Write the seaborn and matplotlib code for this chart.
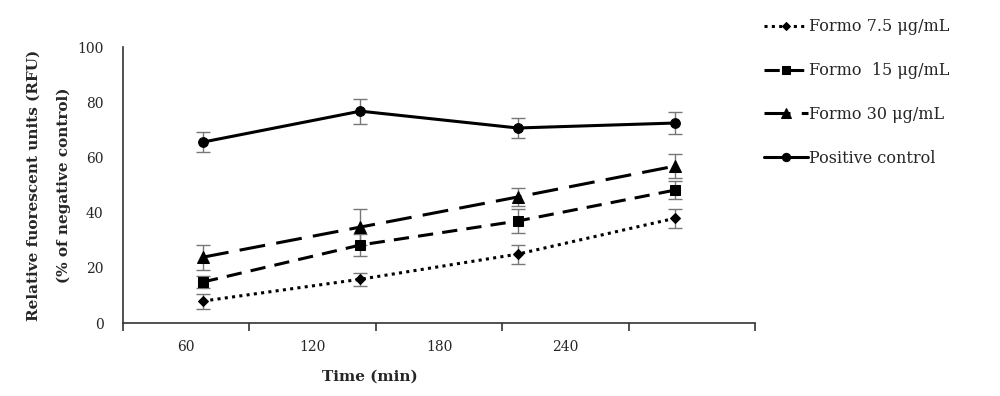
import matplotlib
matplotlib.use("Agg")
import matplotlib.pyplot as plt
import seaborn as sns
import pandas as pd
import numpy as np

# data
times = [60, 120, 180, 240]
series_names = ["Formo 7.5 \u03bcg/mL", "Formo  15 \u03bcg/mL", "Formo 30 \u03bcg/mL", "Positive control"]
formo_7_5 = [8.0, 15.9, 25.0, 38.0]
formo_7_5_err = [2.7, 2.4, 3.4, 3.4]
formo_15 = [14.9, 28.3, 37.0, 48.2]
formo_15_err = [2.2, 4.0, 4.5, 3.2]
formo_30 = [23.9, 34.8, 45.7, 56.9]
formo_30_err = [4.5, 6.5, 3.3, 4.3]
positive = [65.6, 76.8, 70.7, 72.5]
positive_err = [3.6, 4.5, 3.6, 4.0]
tick_labels = ["60", "120", "180", "240"]

values = [formo_7_5, formo_15, formo_30, positive]
errors = [formo_7_5_err, formo_15_err, formo_30_err, positive_err]

rows = []
for name, vals, errs in zip(series_names, values, errors):
    for t, v, e in zip(times, vals, errs):
        rows.append({"time": t, "value": v, "err": e, "series": name})
df = pd.DataFrame(rows)

sns.set_style("white")
plt.rcParams['font.family'] = ['DejaVu Serif']

fig = plt.figure(figsize=(10, 3.96), dpi=100)
ax = fig.add_axes([0.123, 0.184, 0.632, 0.697])

# category-style axis: 5 slots, labels centred in the first four
ax.set_xlim(0, 5)
ax.set_ylim(0, 100)
ax.set_xticks(np.arange(0, 6))
ax.set_xticklabels([])
ax.set_xticks(np.arange(len(tick_labels)) + 0.5, minor=True)
ax.set_xticklabels(tick_labels, minor=True, fontsize=10)
ax.tick_params(axis='x', which='major', direction='out', length=6, width=1.2, color='#333333')
ax.tick_params(axis='x', which='minor', length=0, pad=12)
ax.set_yticks(np.arange(0, 101, 20))
ax.tick_params(axis='y', direction='out', length=6, width=1.2, color='#333333', labelsize=10, pad=8)
for side in ['top', 'right']:
    ax.spines[side].set_visible(False)
for side in ['left', 'bottom']:
    ax.spines[side].set_color('#333333')
    ax.spines[side].set_linewidth(1.2)

ax.set_xlabel("Time (min)", fontsize=11, fontweight='bold')
ax.xaxis.set_label_coords(0.39, -0.17)
ax.set_ylabel("Relative fuorescent units (RFU)\n(% of negative control)",
              fontsize=11, fontweight='bold', linespacing=2.4)
ax.yaxis.set_label_coords(-0.083, 0.5)

# data in minutes on an overlaid axis (points sit offset from the category labels)
ax2 = ax.twiny()
ax2.set_xlim(29.5, 270.5)
ax2.set_ylim(0, 100)
ax2.axis('off')

dashes = {
    series_names[0]: (1, 1.4),
    series_names[1]: (5, 3),
    series_names[2]: (8.5, 3.7),
    series_names[3]: "",
}
markers = {
    series_names[0]: "D",
    series_names[1]: "s",
    series_names[2]: "^",
    series_names[3]: "o",
}
msize = {series_names[0]: 5, series_names[1]: 6.5, series_names[2]: 8, series_names[3]: 7}

for name, vals, errs in zip(series_names, values, errors):
    ax2.errorbar(times, vals, yerr=errs, fmt='none', ecolor='#777777',
                 elinewidth=1.0, capsize=5, capthick=1.0, zorder=1)

n_before = len(ax2.lines)
sns.lineplot(data=df, x="time", y="value", hue="series", style="series",
             palette=["black"] * 4, dashes=dashes, markers=markers,
             linewidth=2.2, markersize=7, markeredgecolor='black',
             ax=ax2, zorder=3, legend=True)
for line, name in zip(ax2.lines[n_before:], series_names):
    line.set_markersize(msize[name])

handles, labels = ax2.get_legend_handles_labels()
ax2.get_legend().remove()
for h, l in zip(handles, labels):
    h.set_markersize(msize[l] * 0.85)
fig.legend(handles, labels, loc='upper left', bbox_to_anchor=(0.750, 0.990),
           frameon=False, fontsize=11.5, labelspacing=1.68, handlelength=2.7,
           handletextpad=0.1)

plt.savefig("out.png", dpi=100)
